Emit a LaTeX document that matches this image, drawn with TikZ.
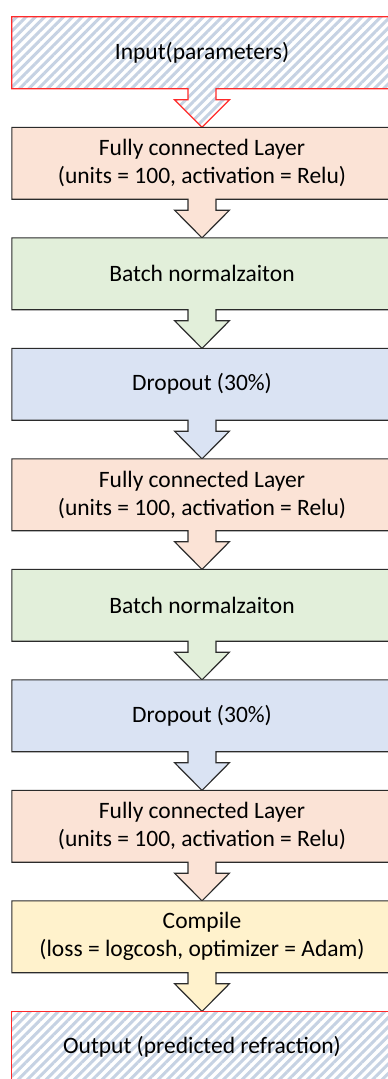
\documentclass[tikz,border=0pt]{standalone}
\usepackage{fontspec}
\setmainfont{Carlito}
\usetikzlibrary{patterns.meta}

\definecolor{fcfill}{HTML}{FBE3D6}
\definecolor{bnfill}{HTML}{E2EFDA}
\definecolor{dofill}{HTML}{DAE3F3}
\definecolor{cpfill}{HTML}{FFF2CC}
\definecolor{hatchcol}{HTML}{C6D2E3}
\definecolor{ioline}{HTML}{FF2A2A}
\definecolor{edge}{HTML}{2B2B2B}

\tikzset{
  stage/.style={minimum width=380pt, minimum height=71.5pt, inner sep=0pt,
    align=center, font=\fontsize{23.5}{28}\selectfont},
  fcshape/.style={fill=fcfill, draw=edge, line width=1.1pt},
  bnshape/.style={fill=bnfill, draw=edge, line width=1.1pt},
  doshape/.style={fill=dofill, draw=edge, line width=1.1pt},
  cpshape/.style={fill=cpfill, draw=edge, line width=1.1pt},
  ioshape/.style={preaction={fill=white},
    pattern={Lines[angle=45, distance=6.6pt, line width=3pt]},
    pattern color=hatchcol, draw=ioline, line width=1.3pt},
}

% box of stage #1 merged with the block arrow pointing into stage #2
\newcommand{\blockflow}[3]{%
  \path[#3] (#1.north west) -- (#1.north east) -- (#1.south east)
    -- ([xshift=14pt]#1.south) -- ([shift={(14,11)}]#1.south)
    -- ([shift={(27.5,11)}]#1.south) -- (#2.north)
    -- ([shift={(-27.5,11)}]#1.south) -- ([shift={(-14,11)}]#1.south)
    -- ([xshift=-14pt]#1.south) -- (#1.south west) -- cycle;}

\begin{document}
\begin{tikzpicture}[x=1pt, y=-1pt]
\useasboundingbox (0,0) rectangle (388,1079);
\clip (0,0) rectangle (388,1079);

% stage positions (centres)
\path
  (202, 52.75)   node[stage] (in)  {}
  (202, 163.25)  node[stage] (fc1) {}
  (202, 273.75)  node[stage] (bn1) {}
  (202, 384.25)  node[stage] (do1) {}
  (202, 494.75)  node[stage] (fc2) {}
  (202, 605.25)  node[stage] (bn2) {}
  (202, 715.75)  node[stage] (do2) {}
  (202, 826.25)  node[stage] (fc3) {}
  (202, 936.75)  node[stage] (cp)  {}
  (202, 1047.25) node[stage] (out) {};

% boxes with their outgoing arrows
\blockflow{in}{fc1}{ioshape}
\blockflow{fc1}{bn1}{fcshape}
\blockflow{bn1}{do1}{bnshape}
\blockflow{do1}{fc2}{doshape}
\blockflow{fc2}{bn2}{fcshape}
\blockflow{bn2}{do2}{bnshape}
\blockflow{do2}{fc3}{doshape}
\blockflow{fc3}{cp}{fcshape}
\blockflow{cp}{out}{cpshape}
\path[ioshape] (out.north west) rectangle (out.south east);

% labels
\node[stage] at (in)  {Input(parameters)};
\node[stage] at (fc1) {Fully connected Layer\\(units = 100, activation = Relu)};
\node[stage] at (bn1) {Batch normalzaiton};
\node[stage] at (do1) {Dropout (30\%)};
\node[stage] at (fc2) {Fully connected Layer\\(units = 100, activation = Relu)};
\node[stage] at (bn2) {Batch normalzaiton};
\node[stage] at (do2) {Dropout (30\%)};
\node[stage] at (fc3) {Fully connected Layer\\(units = 100, activation = Relu)};
\node[stage] at (cp)  {Compile\\(loss = logcosh, optimizer = Adam)};
\node[stage] at (out) {Output (predicted refraction)};
\end{tikzpicture}
\end{document}
